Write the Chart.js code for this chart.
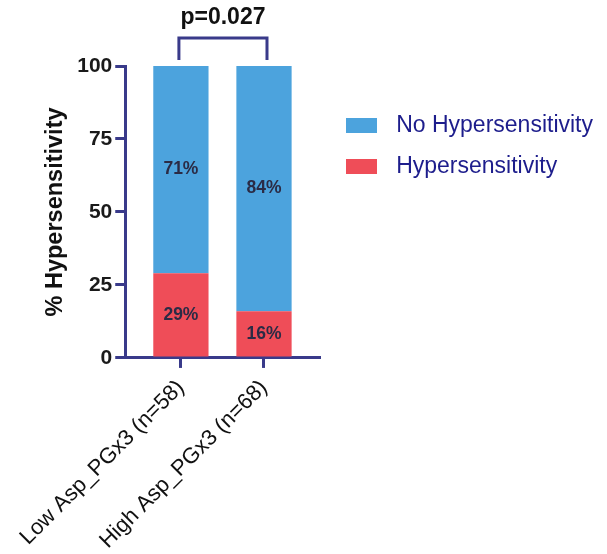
<!DOCTYPE html>
<html>
<head>
<meta charset="utf-8">
<script src="https://cdn.jsdelivr.net/npm/chart.js@4.4.0/dist/chart.umd.min.js"></script>
<style>
  html, body { margin: 0; padding: 0; background: #fff; }
</style>
</head>
<body>
<canvas id="grafico" width="607" height="554"></canvas>
<script>
// Datos del gráfico
var grupos = ["Low Asp_PGx3 (n=58)", "High Asp_PGx3 (n=68)"];
var hipersensibilidad = [29, 16];
var sinHipersensibilidad = [71, 84];
var pasoY = 25;
var valorP = "p=0.027";

var azul = "#4ca3dd", rojo = "#ef4d58", marino = "#393a8a";
var fuente = "'Liberation Sans', Arial, sans-serif";

// cada grupo va en x = 0, 1 sobre un eje lineal
function aPuntos(valores) {
    return valores.map(function(v, i) { return { x: i, y: v }; });
}

// cuadrito de color para la leyenda
function cuadro(color) {
    var c = document.createElement("canvas");
    c.width = 31; c.height = 15;
    var g = c.getContext("2d");
    g.fillStyle = color;
    g.fillRect(0, 0, 31, 15);
    return c;
}

// porcentajes dentro de cada segmento
var etiquetasBarras = {
    id: "etiquetasBarras",
    afterDatasetsDraw: function(chart) {
        var ctx = chart.ctx;
        ctx.save();
        ctx.font = "bold 17.5px " + fuente;
        ctx.fillStyle = "#2b2b45";
        ctx.textAlign = "center";
        ctx.textBaseline = "middle";
        chart.data.datasets.forEach(function(ds, i) {
            chart.getDatasetMeta(i).data.forEach(function(barra, j) {
                var p = barra.getProps(["x", "y", "base"], true);
                ctx.fillText(ds.data[j].y + "%", p.x, (p.y + p.base) / 2);
            });
        });
        ctx.restore();
    }
};

// corchete con el valor p encima de las barras
var corchete = {
    id: "corchete",
    afterDraw: function(chart) {
        var ctx = chart.ctx, x = chart.scales.x, arriba = chart.chartArea.top;
        var x0 = x.getPixelForValue(0) - 2, x1 = x.getPixelForValue(1) + 3;
        ctx.save();
        ctx.strokeStyle = marino;
        ctx.lineWidth = 3;
        ctx.beginPath();
        ctx.moveTo(x0, arriba - 6);
        ctx.lineTo(x0, arriba - 28);
        ctx.lineTo(x1, arriba - 28);
        ctx.lineTo(x1, arriba - 6);
        ctx.stroke();
        ctx.font = "bold 23px " + fuente;
        ctx.fillStyle = "#111";
        ctx.textAlign = "center";
        ctx.textBaseline = "middle";
        ctx.fillText(valorP, (x0 + x1) / 2, arriba - 48);
        ctx.restore();
    }
};

new Chart(document.getElementById("grafico").getContext("2d"), {
    type: "bar",
    data: {
        datasets: [
            { label: "Hypersensitivity", data: aPuntos(hipersensibilidad), backgroundColor: rojo, pointStyle: cuadro(rojo) },
            { label: "No Hypersensitivity", data: aPuntos(sinHipersensibilidad), backgroundColor: azul, pointStyle: cuadro(azul) }
        ]
    },
    options: {
        responsive: false,
        animation: false,
        categoryPercentage: 1,
        barPercentage: 0.665,
        layout: { padding: { top: 66, left: 41, right: 4, bottom: -7 } },
        plugins: {
            legend: {
                position: "right",
                align: "start",
                reverse: true,
                maxWidth: 300,
                title: { display: true, text: " ", padding: { top: 16, bottom: 0 } },
                labels: {
                    usePointStyle: true,
                    pointStyleWidth: 47,
                    boxHeight: 15,
                    padding: 18,
                    color: "#1d1d8c",
                    font: { size: 23, family: fuente }
                }
            },
            tooltip: { enabled: false }
        },
        scales: {
            x: {
                type: "linear",
                stacked: true,
                offset: false,
                min: -0.67,
                max: 1.67,
                afterBuildTicks: function(eje) {
                    eje.ticks = grupos.map(function(g, i) { return { value: i }; });
                },
                // las etiquetas giradas pueden salirse por la izquierda, no reservar sitio
                afterFit: function(eje) { eje.paddingLeft = 0; },
                ticks: {
                    callback: function(v) { return grupos[v]; },
                    minRotation: 45,
                    maxRotation: 45,
                    padding: 7,
                    color: "#111",
                    font: { size: 22, family: fuente }
                },
                grid: { offset: false, drawOnChartArea: false, color: marino, lineWidth: 3, tickLength: 10 },
                border: { color: marino, width: 3 }
            },
            y: {
                stacked: true,
                min: 0,
                max: 100,
                ticks: {
                    stepSize: pasoY,
                    padding: 3,
                    color: "#1a1a1a",
                    font: { size: 21, weight: "bold", family: fuente }
                },
                grid: { drawOnChartArea: false, color: marino, lineWidth: 3, tickLength: 10 },
                border: { color: marino, width: 3 },
                title: {
                    display: true,
                    text: "% Hypersensitivity",
                    color: "#111",
                    padding: { top: 0, bottom: 5 },
                    font: { size: 23.5, weight: "bold", family: fuente }
                }
            }
        }
    },
    plugins: [etiquetasBarras, corchete]
});
</script>
</body>
</html>
